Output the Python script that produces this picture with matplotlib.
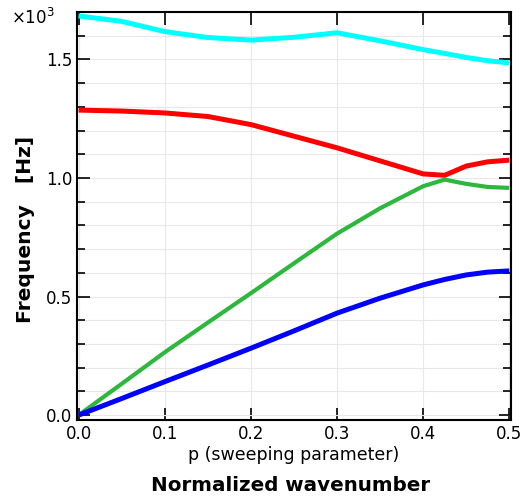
import numpy as np
import matplotlib
matplotlib.use("Agg")
import matplotlib.pyplot as plt
from matplotlib.ticker import MultipleLocator

# eigenfrequencies vs normalized wavenumber (Hz)
p = [0.0, 0.05, 0.1, 0.15, 0.2, 0.25, 0.3, 0.35, 0.4, 0.425, 0.45, 0.475, 0.5]
band1 = [0, 70, 141, 211, 282, 355, 430, 493, 549, 572, 591, 603, 608]
band2 = [0, 132, 265, 390, 514, 640, 765, 872, 965, 993, 975, 962, 958]
band3 = [1286, 1282, 1274, 1259, 1225, 1176, 1127, 1072, 1017, 1011, 1050, 1068, 1075]
band4 = [1683, 1660, 1617, 1592, 1581, 1593, 1612, 1578, 1541, 1525, 1508, 1494, 1485]

colors = ["#0000ff", "#2db83d", "#ff0000", "#00ffff"]
widths = [3.6, 3.0, 3.6, 3.6]

fig = plt.figure(figsize=(5.23, 4.96), dpi=100)
ax = fig.add_axes([0.147, 0.153, 0.83, 0.823])

for band, c, w in zip([band4, band3, band2, band1], colors[::-1], widths[::-1]):
    ax.plot(p, np.array(band) / 1e3, color=c, lw=w, solid_capstyle="butt")

ax.set_xlim(-0.002, 0.502)
ax.set_ylim(-0.021, 1.70)
ax.xaxis.set_major_locator(MultipleLocator(0.1))
ax.yaxis.set_major_locator(MultipleLocator(0.5))
ax.yaxis.set_minor_locator(MultipleLocator(0.1))
ax.xaxis.set_major_formatter(plt.FormatStrFormatter("%.1f"))
ax.yaxis.set_major_formatter(plt.FormatStrFormatter("%.1f"))

ax.grid(True, which="both", color="#e8e8e8", lw=0.8)
ax.set_axisbelow(True)
ax.tick_params(which="both", direction="in", top=True, right=True, labelsize=12)
ax.tick_params(which="major", length=9, width=1.2)
ax.tick_params(which="minor", length=6, width=1.2)
for s in ax.spines.values():
    s.set_linewidth(1.5)

ax.set_xlabel("p (sweeping parameter)", fontsize=12.5, labelpad=2)
ax.text(-0.05, 0.985, "×10$^3$", transform=ax.transAxes, ha="right", va="center",
        fontsize=12)

fig.text(0.555, 0.022, "Normalized wavenumber", ha="center", va="center",
         fontsize=14.3, fontweight="bold")
fig.text(0.048, 0.538, "Frequency   [Hz]", ha="center", va="center",
         rotation=90, fontsize=14.6, fontweight="bold")

fig.savefig("out.png", dpi=100)
